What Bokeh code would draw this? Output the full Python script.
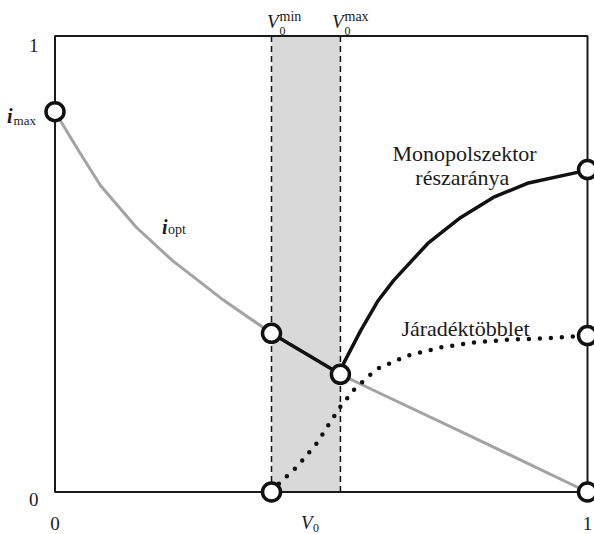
from bokeh.plotting import figure
from bokeh.models import Range1d
from bokeh.core.properties import value
from bokeh.embed import file_html
from bokeh.resources import INLINE

# ---- data ----
v0_min = 0.4066
v0_max = 0.536

iopt_x = [0.0, 0.0441, 0.0854, 0.153, 0.220, 0.3127, 0.4066, 0.536, 0.611, 0.7615, 1.0]
iopt_y = [0.834, 0.749, 0.672, 0.580, 0.508, 0.424, 0.348, 0.258, 0.216, 0.133, 0.0]

seg_x = [0.4066, 0.536]
seg_y = [0.348, 0.258]

mono_x = [0.536, 0.542, 0.574, 0.607, 0.636, 0.700, 0.762, 0.823, 0.887, 0.981, 1.0]
mono_y = [0.258, 0.282, 0.354, 0.420, 0.464, 0.545, 0.602, 0.646, 0.677, 0.701, 0.707]

jar_x = [0.4066, 0.423, 0.455, 0.493, 0.514, 0.536, 0.562, 0.593, 0.607, 0.662, 0.724, 0.786, 0.850, 0.925, 1.0]
jar_y = [0.0, 0.021, 0.056, 0.109, 0.148, 0.187, 0.225, 0.258, 0.271, 0.299, 0.317, 0.328, 0.334, 0.337, 0.343]

pts_x = [0.0, 0.4066, 0.536, 0.4066, 1.0, 1.0, 1.0]
pts_y = [0.834, 0.348, 0.258, 0.0, 0.0, 0.707, 0.343]

axis_tick_labels = ["0", "1"]

FONT = "Liberation Serif"

p = figure(width=594, height=534, output_backend="svg", toolbar_location=None,
           x_axis_type=None, y_axis_type=None,
           x_range=Range1d(-0.10235, 1.01315), y_range=Range1d(-0.09320, 1.07785),
           min_border=0, min_border_left=0, min_border_right=0,
           min_border_top=0, min_border_bottom=0)
p.outline_line_color = None
p.grid.visible = False
p.background_fill_color = "white"
p.border_fill_color = "white"

# shaded band
p.quad(left=[v0_min], right=[v0_max], bottom=[0], top=[1],
       fill_color="#d9d9d9", line_color=None)
# dashed verticals
p.segment(x0=[v0_min, v0_max], y0=[0, 0], x1=[v0_min, v0_max], y1=[1, 1],
          line_color="#111111", line_width=1.5, line_dash="6 4")
# frame
p.quad(left=[0], right=[1], bottom=[0], top=[1], fill_alpha=0,
       line_color="#1a1a1a", line_width=2)

# curves
p.line(iopt_x, iopt_y, line_color="#a3a3a3", line_width=3, line_join="round")
p.line(seg_x, seg_y, line_color="#111111", line_width=3.5)
p.line(mono_x, mono_y, line_color="#111111", line_width=3.5, line_join="round")
p.line(jar_x, jar_y, line_color="#111111", line_width=4.5, line_dash="0 11",
       line_cap="round")

# circles
p.scatter(pts_x, pts_y, size=18, fill_color="white", line_color="#111111",
          line_width=3.5)

def txt(x, y, s, size, align="left", style="normal", baseline="alphabetic"):
    p.text(x=[x], y=[y], text=[s], text_font=value(FONT), text_font_size=size,
           text_align=align, text_baseline=baseline, text_font_style=style,
           text_color="#1a1a1a")

# axis tick labels
txt(-0.031, 0.9792, axis_tick_labels[1], "19px", align="right")
txt(-0.031, -0.0171, axis_tick_labels[0], "19px", align="right")
txt(0.0, -0.070, axis_tick_labels[0], "19px", align="center")
txt(1.0, -0.070, axis_tick_labels[1], "19px", align="center")

# V0 axis label
txt(0.4836, -0.0669, "V", "19px", align="right", style="italic")
txt(0.4845, -0.0790, "0", "12px")

# V0 min / max
txt(0.4197, 1.0325, "V", "19px", align="right", style="italic")
txt(0.4216, 1.0105, "0", "12px")
txt(0.4216, 1.0428, "min", "14px")
txt(0.5418, 1.0325, "V", "19px", align="right", style="italic")
txt(0.5437, 1.0105, "0", "12px")
txt(0.5437, 1.0428, "max", "14px")

# i_max, i_opt
txt(-0.0798, 0.8235, "i", "20px", align="right", style="bold italic")
txt(-0.0779, 0.8147, "max", "13px")
txt(0.2113, 0.5822, "i", "20px", align="right", style="bold italic")
txt(0.2122, 0.5746, "opt", "14px")

# curve labels
txt(0.769, 0.7417, "Monopolszektor", "22px", align="center")
txt(0.765, 0.6904, "részaránya", "22px", align="center")
txt(0.771, 0.3579, "Járadéktöbblet", "22px", align="center")

open("out.html", "w").write(file_html(p, INLINE))
